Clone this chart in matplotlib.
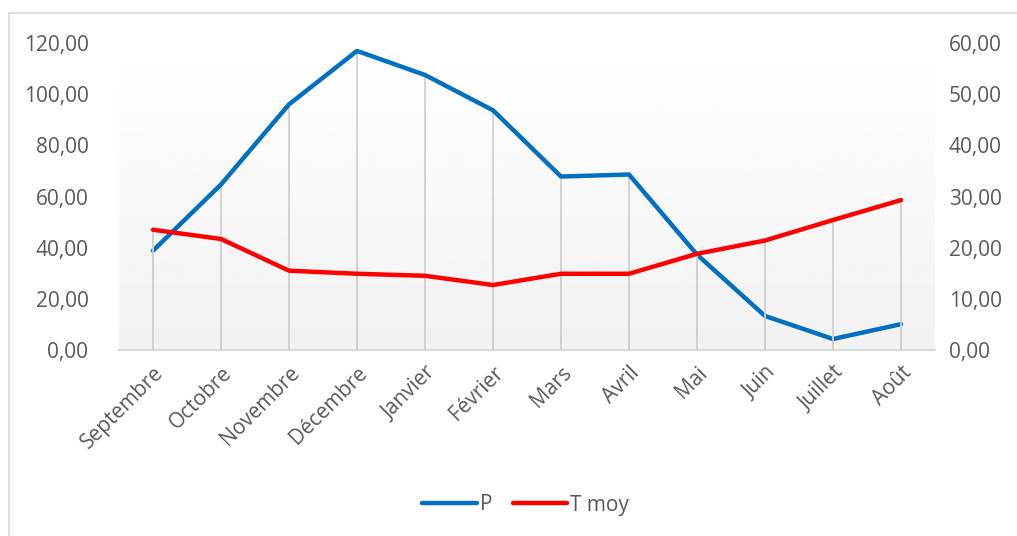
import numpy as np
import matplotlib
matplotlib.use('Agg')
import matplotlib.pyplot as plt
from matplotlib.patches import Rectangle
from matplotlib.ticker import FuncFormatter

# Données
mois = ['Septembre', 'Octobre', 'Novembre', 'Décembre', 'Janvier', 'Février',
        'Mars', 'Avril', 'Mai', 'Juin', 'Juillet', 'Août']
precip = [38.8, 64.7, 96.0, 116.9, 107.5, 93.7, 67.8, 68.6, 37.3, 13.3, 4.3, 10.1]
t_moy = [23.5, 21.7, 15.5, 14.9, 14.5, 12.7, 14.9, 14.9, 18.8, 21.4, 25.4, 29.3]

BLEU = '#0070C0'
ROUGE = '#FF0000'
GRIS_TXT = '#595959'
FONT = ['Open Sans', 'DejaVu Sans']
TAILLE = 15

plt.rcParams['font.family'] = FONT

fig = plt.figure(figsize=(10.17, 5.36), dpi=100)
fig.patch.set_facecolor('white')
fig.patches.append(Rectangle((9 / 1017, -0.01), 1.0, 1 - 13 / 536 + 0.01,
                             transform=fig.transFigure, fill=False,
                             edgecolor='#D9D9D9', lw=1.2))

ax = fig.add_axes([119 / 1017, 1 - 350 / 536, 816 / 1017, 307 / 536])
ax2 = ax.twinx()

x = np.arange(len(mois))

# fond dégradé (blanc en haut, gris clair en bas)
grad = np.linspace(1.0, 0.945, 256).reshape(-1, 1)
ax.imshow(grad, cmap='gray', vmin=0, vmax=1, aspect='auto',
          extent=[0, 1, 0, 1], transform=ax.transAxes, zorder=0)

# lignes de projection
ax.vlines(x, 0, precip, color='#D0D0D0', lw=1.3, zorder=1)
ax2.vlines(x, 0, t_moy, color='#D0D0D0', lw=1.3, zorder=1)

ax.plot(x, precip, color=BLEU, lw=3.2, solid_capstyle='round',
        solid_joinstyle='round', zorder=3, label='P')
ax2.plot(x, t_moy, color=ROUGE, lw=3.2, solid_capstyle='round',
         solid_joinstyle='round', zorder=3, label='T moy')

ax.set_xlim(-0.5, len(mois) - 0.5)
ax.set_ylim(0, 120)
ax2.set_ylim(0, 60)
ax.set_yticks(np.arange(0, 121, 20))
ax2.set_yticks(np.arange(0, 61, 10))

fmt = FuncFormatter(lambda v, p: f'{v:.2f}'.replace('.', ','))
ax.yaxis.set_major_formatter(fmt)
ax2.yaxis.set_major_formatter(fmt)

ax.set_xticks(x)
ax.set_xticklabels(mois, rotation=45, ha='right', rotation_mode='anchor')

for a in (ax, ax2):
    for s in a.spines.values():
        s.set_visible(False)
    a.tick_params(length=0, labelsize=TAILLE, colors=GRIS_TXT)
    a.patch.set_visible(False)
ax.tick_params(axis='y', pad=22)
ax2.tick_params(axis='y', pad=10)
ax.tick_params(axis='x', pad=9)
ax.spines['bottom'].set_visible(True)
ax.spines['bottom'].set_color('#D9D9D9')
ax.spines['bottom'].set_linewidth(1.5)

h1, l1 = ax.get_legend_handles_labels()
h2, l2 = ax2.get_legend_handles_labels()
leg = fig.legend(h1 + h2, l1 + l2, loc='center', bbox_to_anchor=(0.517, 1 - 505 / 536),
                 ncol=2, frameon=False, fontsize=TAILLE, handlelength=2.6,
                 handletextpad=0.15, columnspacing=1.0)
for t in leg.get_texts():
    t.set_color(GRIS_TXT)

fig.savefig('out.png', dpi=100)
